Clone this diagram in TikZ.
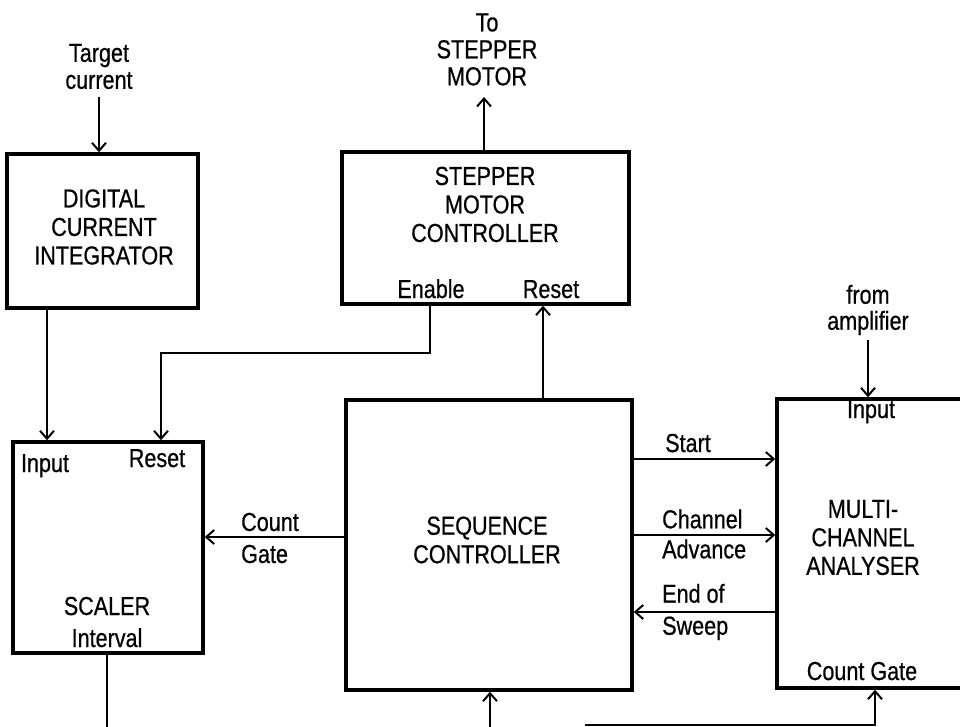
\documentclass[tikz,border=0pt]{standalone}
\usepackage{fontspec}
\setmainfont{Liberation Sans}[FakeStretch=0.83,FakeBold=0.6]
\usetikzlibrary{arrows.meta}
\begin{document}
\begin{tikzpicture}[x=1pt,y=-1pt,
  box/.style={draw, line width=3.4pt, inner sep=0pt},
  wire/.style={line width=2pt},
  arr/.style={wire, -{Straight Barb[length=8pt,width=14pt,line width=2pt]}},
  txt/.style={font=\fontsize{26}{28.5}\selectfont, align=center, inner sep=0pt},
  lbl/.style={txt, anchor=base},
  pair/.style={txt, align=left, anchor=west}]
\useasboundingbox (0,0) rectangle (960,727);

% boxes
\node[box, minimum width=191pt, minimum height=154pt] (dci) at (102.5,231) {};
\node[box, minimum width=287pt, minimum height=152pt] (smc) at (485.5,228) {};
\node[box, minimum width=190pt, minimum height=211pt] (sca) at (108,547.5) {};
\node[box, minimum width=286pt, minimum height=290pt] (seq) at (489,545) {};
\node[box, minimum width=189pt, minimum height=289pt] (mca) at (871.5,543.5) {};

% box texts
\node[txt] (dcit) at (104,227) {DIGITAL\\CURRENT\\INTEGRATOR};
\node[txt] (smct) at (485,204.5) {STEPPER\\MOTOR\\CONTROLLER};
\node[txt] (seqt) at (487,540) {SEQUENCE\\CONTROLLER};
\node[txt] (mcat) at (863,537.5) {MULTI-\\CHANNEL\\ANALYSER};
\node[lbl] (scat) at (107,615) {SCALER};
\node[lbl] (intv) at (107,647) {Interval};
\node[lbl] (scin) at (45,472) {Input};
\node[lbl] (scrs) at (157,467) {Reset};
\node[lbl] (smen) at (431,298) {Enable};
\node[lbl] (smrs) at (551,298) {Reset};
\node[lbl] (mcin) at (871,418) {Input};
\node[lbl] (mccg) at (862,680) {Count Gate};

% outside texts
\node[txt, font=\fontsize{26}{27}\selectfont] (tgt) at (99,66.5) {Target\\current};
\node[txt, font=\fontsize{26}{27}\selectfont] (tosm) at (487,49.5) {To\\STEPPER\\MOTOR};
\node[txt, font=\fontsize{26}{26}\selectfont] (famp) at (868,310) {from\\amplifier};

% connector labels
\node[pair, font=\fontsize{26}{32}\selectfont] (cg) at (241,538) {Count\\Gate};
\node[lbl, anchor=base west] (st) at (665,452) {Start};
\node[pair, font=\fontsize{26}{30}\selectfont] (ca) at (662,534) {Channel\\Advance};
\node[pair, font=\fontsize{26}{32}\selectfont] (es) at (662,612) {End of\\Sweep};

% free ends
\coordinate (tgtend) at (99,97);
\coordinate (tosmend) at (484,97);
\coordinate (fampend) at (868,340);
\coordinate (intvend) at (107,730);
\coordinate (seqin) at (490,730);
\coordinate (bus) at (585,725);
\coordinate (enb) at (430,353);
\coordinate (rsb) at (161,353);

% connectors
\draw[arr] (tgtend) -- (tgtend |- dci.north);
\draw[arr] (smc.north -| tosmend) -- (tosmend);
\draw[arr] (fampend) -- (fampend |- mca.north);
\draw[arr] (47,0 |- dci.south) -- (47,0 |- sca.north);
\draw[arr] (enb |- smc.south) -- (enb) -- (rsb) -- (rsb |- sca.north);
\draw[arr] (543,0 |- seq.north) -- (543,0 |- smc.south);
\draw[arr] (seq.west |- 0,537) -- (sca.east |- 0,537);
\draw[arr] (seq.east |- 0,459) -- (mca.west |- 0,459);
\draw[arr] (seq.east |- 0,535) -- (mca.west |- 0,535);
\draw[arr] (mca.west |- 0,612) -- (seq.east |- 0,612);
\draw[wire] (sca.south -| intvend) -- (intvend);
\draw[arr] (seqin) -- (seqin |- seq.south);
\draw[arr] (bus) -- (875,725) -- (875,0 |- mca.south);
\end{tikzpicture}
\end{document}
